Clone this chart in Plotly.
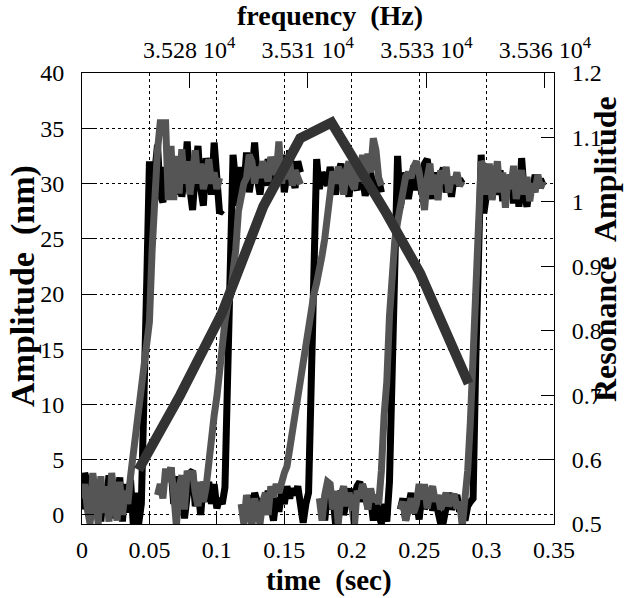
import plotly.graph_objects as go

# ---------------- data ----------------
DT = 0.002  # sampling step of the amplitude traces (s)

# black amplitude trace, split into the sweep segments (start time, values in nm)
black_1_t0 = 0.000
black_1 = [0.5, 3.8, 3.0, -0.5, 3.5, 0.0, 3.2, -0.6, 2.8, 0.8, 3.6, -0.3, 2.4, 0.6, 3.4, -0.6,
           2.8, 0.2, 3.2, -0.8, 2.0, -0.8,
           1.0, 9.0, 21.0, 32.0,
           27.0, 31.0, 33.5, 29.0, 28.3, 31.5, 29.5, 32.5, 30.0, 29.0, 32.0, 28.8, 30.5, 33.8,
           29.5, 27.6, 31.0, 33.4, 29.6, 28.0, 32.3, 30.2, 29.0, 33.7, 30.0, 27.3, 27.6]
black_2_t0 = 0.064
black_2 = [3.0, 4.3, 1.0, 3.5, 0.3, 2.0, -0.3, 1.5, 3.8, 4.0, 0.8, 2.5, 0.0, 3.0, 1.2, 3.0,
           1.0, 2.8, 0.6, 1.5, 1.0,
           2.5, 12.0, 22.0, 32.6,
           30.0, 28.0, 31.5, 29.5, 32.8, 29.2, 30.8, 33.7, 30.5, 29.0, 31.0, 29.8, 32.2, 30.2,
           29.5, 31.6, 30.0, 32.6, 29.2, 30.8, 33.0, 30.5, 29.6, 32.0, 31.0]
black_3_t0 = 0.120
black_3 = [1.0, -0.5, 1.8, 0.2, 2.0, 1.2, -0.3, 1.5, 0.4, 2.2, 0.8, -0.5, 1.6, 0.3, 2.0, 1.0,
           2.6, 1.5, 2.4, 1.8, 2.6, 0.5, -0.7, 1.0,
           2.0, 12.0, 24.0, 32.2,
           29.5, 31.0, 30.5, 29.8, 31.5, 30.2, 29.0, 30.8, 31.8, 29.5, 30.4, 28.8, 31.2, 30.0,
           29.4, 31.4, 30.6, 28.9, 30.2, 31.0, 29.6, 28.8, 30.4, 29.2]
black_4_t0 = 0.178
black_4 = [1.5, -0.5, 2.0, 0.5, 1.8, -0.8, 1.0, 2.2, 0.0, 1.6, 2.4, 0.8, 1.8, 2.6, 3.0, 1.2,
           2.0, 0.6, 1.5, -0.5, 1.0, 0.2, -0.8, 1.0, -0.6,
           3.0, 14.0, 26.0, 32.5,
           27.8, 29.5, 31.0, 28.6, 30.8, 31.6, 29.4, 30.6, 29.0, 31.8, 32.2, 30.0, 28.6, 31.0,
           29.6, 30.8, 31.4, 29.2, 30.2, 28.8, 30.6, 29.8, 30.4, 30.0]
black_5_t0 = 0.236
black_5 = [0.5, 1.5, -0.5, 1.0, 2.0, 0.2, 1.2, -0.4, 1.8, 0.6, 1.0, 2.2, 0.4, 1.4, 0.0, -0.8,
           -0.6, 1.0, 2.0, 0.5, 1.2, 1.8, 0.3, 1.0, -0.5, 0.8, 1.2,
           1.5, 14.0, 26.0, 32.6,
           27.3, 29.5, 30.8, 28.6, 30.2, 29.0, 31.2, 28.4, 30.6, 29.2, 30.8, 28.2, 31.0, 27.9,
           32.3, 29.0, 27.9, 30.1, 29.2, 30.8, 29.6, 30.4, 29.8]

# gray amplitude trace segments
gray_1_t0 = 0.000
gray_1 = [1.5, 2.8, 0.5, -0.8, 3.8, 1.0, -0.8, 3.5, 0.2, 2.6, -0.6, 3.8, 1.2, -0.5, 3.0, 0.0, 2.2,
          1.0, 3.5, 5.5, 7.7, 9.0, 10.4, 13.0, 15.5, 17.5, 24.0, 29.5, 33.0, 35.5,
          35.5, 35.5, 28.5, 33.4, 28.5, 32.5, 29.1, 33.1, 30.0, 32.0, 29.0, 31.5, 33.0, 30.0,
          31.8, 29.5, 30.5, 32.2, 30.0, 31.0, 29.5, 30.5]
gray_2_t0 = 0.056
gray_2 = [1.8, 2.8, 1.5, 4.2, 3.0, 4.3, 2.0, -1.0, 2.5, 3.6, 0.5, 4.0, 3.2, 4.0, 2.0, 0.8, 3.0, 1.2,
          2.5, 5.0, 7.0, 9.0, 10.7, 13.0, 16.0, 17.5, 19.0, 19.8, 22.0, 24.0, 27.5, 28.8, 30.0,
          30.5, 32.6, 32.0,
          30.0, 31.5, 30.5, 32.0, 31.0, 30.2, 32.4, 31.5, 30.8, 33.8, 30.0, 31.6, 30.4, 32.0,
          29.8, 31.2, 30.6, 29.9]
gray_3_t0 = 0.118
gray_3 = [1.0, -0.8, 1.8, 0.2, -1.0, 1.5, 0.5, -0.8, 1.2, 2.0, 0.0, 2.6, 1.6, 2.8, 2.0,
          3.2, 3.8, 4.4, 6.0, 7.8, 9.5, 11.0, 12.5, 14.5, 16.2, 17.5, 18.8, 20.0, 21.0, 22.0,
          23.5, 25.0, 27.5, 29.0, 31.1,
          30.0, 31.5, 30.8, 29.0, 31.2, 32.0, 30.0, 29.5, 31.5, 30.2, 32.6, 30.0, 32.7, 31.0,
          34.1, 33.0, 30.5, 29.8]
gray_4_t0 = 0.176
gray_4 = [1.5, -0.5, 1.8, 3.0, 2.8, 0.5, 2.2, -0.8, 1.8, 2.6, 0.8, 2.0, 1.0, -1.0, 2.2, 1.5,
          2.8, 2.0, 0.5, 2.4, 1.2, 1.8, 1.0,
          4.0, 9.0, 12.0, 18.0, 22.5, 24.9, 26.5, 28.0, 29.5, 30.6, 31.0, 30.5, 31.5,
          32.0, 31.0, 29.5, 27.6, 30.5, 31.8, 29.0, 30.8, 28.5, 31.2, 30.0, 31.5, 29.2, 30.6,
          30.0, 31.0, 29.8, 30.2]
gray_5_t0 = 0.236
gray_5 = [0.5, 1.2, -0.5, 0.8, 1.5, 0.2, 1.0, 2.8, 1.4, 2.8, 0.6, 2.0, 2.6, 1.2, 1.8, 0.5,
          1.6, 2.0, 0.8, 1.4, 1.9, 0.6, 1.2, -1.0,
          1.5, 4.0, 8.5, 14.0, 20.0, 27.0, 32.0,
          31.5, 29.0, 31.8, 28.5, 30.5, 32.0, 29.2, 31.0, 27.8, 30.8, 29.5, 31.6, 28.6, 30.2,
          31.2, 29.0, 30.6, 28.4, 30.0, 29.2, 30.8, 29.6, 30.2]

# resonance curve (top / right axes)
res_freq = [35269.3, 35278.1, 35286.9, 35295.6, 35303.4, 35310.0, 35321.6, 35328.7, 35338.9]
res_amp = [0.584, 0.700, 0.827, 0.9925, 1.0986, 1.123, 0.982, 0.889, 0.718]

# tick labels
time_ticks = [0, 0.05, 0.1, 0.15, 0.2, 0.25, 0.3, 0.35]
time_ticktext = ["0", "0.05", "0.1", "0.15", "0.2", "0.25", "0.3", "0.35"]
amp_ticks = [0, 5, 10, 15, 20, 25, 30, 35, 40]
res_ticks = [0.5, 0.6, 0.7, 0.8, 0.9, 1.0, 1.1, 1.2]
res_ticktext = ["0.5", "0.6", "0.7", "0.8", "0.9", "1", "1.1", "1.2"]
freq_tickvals = [35280, 35305, 35330, 35355]
freq_ticktext = ["3.528 10<sup>4</sup>", "3.531 10<sup>4</sup>",
                 "3.533 10<sup>4</sup>", "3.536 10<sup>4</sup>"]


def build(segments):
    xs, ys = [], []
    for t0, vals in segments:
        xs += [round(t0 + i * DT, 6) for i in range(len(vals))]
        ys += list(vals)
        xs.append(None)
        ys.append(None)
    return xs, ys


bx, by = build([(black_1_t0, black_1), (black_2_t0, black_2), (black_3_t0, black_3),
                (black_4_t0, black_4), (black_5_t0, black_5)])
gx, gy = build([(gray_1_t0, gray_1), (gray_2_t0, gray_2), (gray_3_t0, gray_3),
                (gray_4_t0, gray_4), (gray_5_t0, gray_5)])

FONT = "Liberation Serif, Times New Roman, DejaVu Serif, serif"
TICK_SIZE = 24

fig = go.Figure()
fig.add_trace(go.Scatter(x=bx, y=by, mode="lines", line=dict(color="#000000", width=7),
                         connectgaps=False, showlegend=False, hoverinfo="skip"))
fig.add_trace(go.Scatter(x=gx, y=gy, mode="lines", line=dict(color="#555555", width=7),
                         connectgaps=False, showlegend=False, hoverinfo="skip"))
fig.add_trace(go.Scatter(x=res_freq, y=res_amp, mode="lines", xaxis="x2", yaxis="y2",
                         line=dict(color="#333333", width=10), showlegend=False,
                         hoverinfo="skip"))

L, R, T, B = 82, 70, 73, 74
W, H = 624, 598
PW, PH = W - L - R, H - T - B


def px(xp):
    return (xp - L) / PW


def py(yp):
    return (H - B - yp) / PH


axis_common = dict(showline=True, linecolor="black", linewidth=1, ticks="inside",
                   tickcolor="black", tickwidth=1, zeroline=False, automargin=False,
                   tickfont=dict(family=FONT, size=TICK_SIZE, color="black"))

fig.update_layout(
    template="none",
    width=W, height=H,
    margin=dict(l=L, r=R, t=T, b=B, autoexpand=False),
    paper_bgcolor="white", plot_bgcolor="white",
    font=dict(family=FONT, color="black"),
    xaxis=dict(range=[0, 0.35], tickvals=time_ticks, ticktext=time_ticktext,
               showgrid=True, gridcolor="black", gridwidth=1, griddash="dot",
               ticklen=13, ticklabelstandoff=4, **axis_common),
    yaxis=dict(range=[-0.815, 40], tickvals=amp_ticks,
               showgrid=True, gridcolor="black", gridwidth=1, griddash="dot",
               ticklen=12, ticklabelstandoff=12, **axis_common),
    xaxis2=dict(range=[35257.4, 35356.9], overlaying="x", side="top", anchor="y",
                tickvals=freq_tickvals, ticktext=freq_ticktext, showgrid=False,
                ticklen=15, ticklabelstandoff=4, **axis_common),
    yaxis2=dict(range=[0.5, 1.2], overlaying="y", side="right", anchor="x",
                tickvals=res_ticks, ticktext=res_ticktext, showgrid=False,
                ticklen=13, ticklabelstandoff=12, **axis_common),
    annotations=[
        dict(text="<b>frequency\u00a0 (Hz)</b>", x=px(330), y=py(16), xref="paper", yref="paper",
             xanchor="center", yanchor="middle", showarrow=False,
             font=dict(family=FONT, size=28, color="black")),
        dict(text="<b>time\u00a0 (sec)</b>", x=px(329), y=py(580), xref="paper", yref="paper",
             xanchor="center", yanchor="middle", showarrow=False,
             font=dict(family=FONT, size=29, color="black")),
        dict(text="<b>Amplitude\u00a0 (nm)</b>", x=px(23), y=py(286), xref="paper", yref="paper",
             xanchor="center", yanchor="middle", showarrow=False, textangle=-90,
             font=dict(family=FONT, size=34, color="black")),
        dict(text="<b>Resonance\u00a0 Amplitude</b>", x=px(605), y=py(249), xref="paper",
             yref="paper", xanchor="center", yanchor="middle", showarrow=False, textangle=-90,
             font=dict(family=FONT, size=32, color="black")),
    ],
)

fig.write_html("out.html", config={"displayModeBar": False},
               post_script="document.body.style.margin='0px';document.body.style.padding='0px';")
